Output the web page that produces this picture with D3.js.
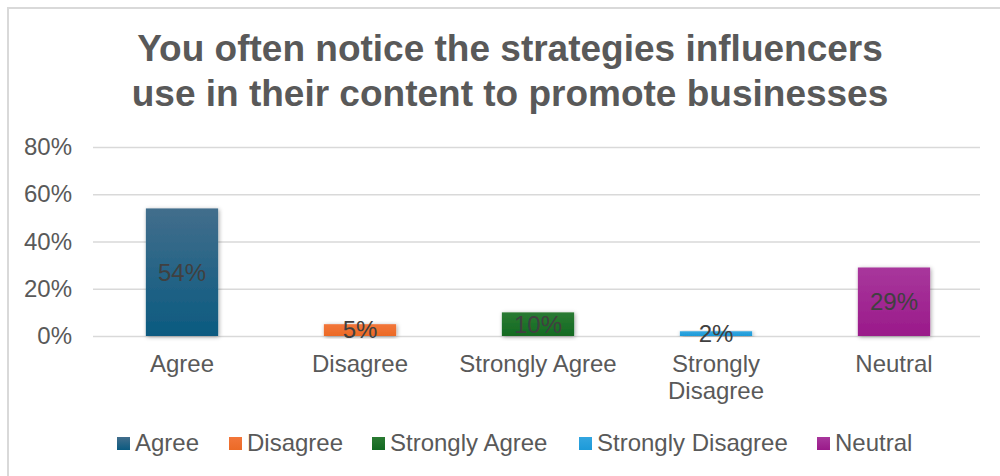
<!DOCTYPE html>
<html>
<head>
<meta charset="utf-8">
<script src="https://cdn.jsdelivr.net/npm/d3@7"></script>
<style>
  html, body { margin: 0; padding: 0; background: #fff; }
  svg { display: block; font-family: "Liberation Sans", Arial, sans-serif; }
</style>
</head>
<body>
<svg id="chart" width="1000" height="476"></svg>
<script>
// Survey responses
const categories = ["Agree", "Disagree", "Strongly Agree", "Strongly Disagree", "Neutral"];
const values = [0.54, 0.05, 0.10, 0.02, 0.29];
const yTicks = [0, 0.2, 0.4, 0.6, 0.8];
const titleLines = ["You often notice the strategies influencers", "use in their content to promote businesses"];
const colorsTop = ["#426e8c", "#f2763a", "#2a7a32", "#33a6e0", "#a8379c"];
const colorsBottom = ["#0b5a80", "#ec6a26", "#136a22", "#1d9ad8", "#9a1a8a"];

const W = 1000, H = 476;
const margin = { left: 93, right: 20 };
const svg = d3.select("#chart");

// outer chart frame
svg.append("rect")
  .attr("x", 8).attr("y", 8).attr("width", W + 10).attr("height", H + 10)
  .attr("fill", "#fff").attr("stroke", "#d9d9d9").attr("stroke-width", 2);

const defs = svg.append("defs");
categories.forEach((c, i) => {
  const g = defs.append("linearGradient").attr("id", "grad" + i)
    .attr("x1", 0).attr("y1", 0).attr("x2", 0).attr("y2", 1);
  g.append("stop").attr("offset", "0%").attr("stop-color", colorsTop[i]);
  g.append("stop").attr("offset", "100%").attr("stop-color", colorsBottom[i]);
});
const shadow = defs.append("filter").attr("id", "shadow")
  .attr("x", "-20%").attr("y", "-20%").attr("width", "140%").attr("height", "140%");
shadow.append("feDropShadow").attr("dx", 1).attr("dy", 1).attr("stdDeviation", 2)
  .attr("flood-color", "#000").attr("flood-opacity", 0.35);

// bars sit in bands across the plot; bar placement uses a slightly wider band range
const x = d3.scaleBand().domain(categories)
  .range([margin.left, W - margin.right + 3]).paddingInner(0.594).paddingOuter(0.297);
const y = d3.scaleLinear().domain([0, 0.8]).range([336, 147]);

// title
svg.append("text")
  .attr("text-anchor", "middle").attr("fill", "#595959")
  .attr("font-size", 37).attr("font-weight", "bold")
  .selectAll("tspan").data(titleLines).join("tspan")
  .attr("x", 510).attr("y", (d, i) => 61 + i * 45).text(d => d);

// gridlines
const grid = d3.axisLeft(y).tickValues(yTicks)
  .tickSize(-(W - margin.right - margin.left)).tickFormat("");
svg.append("g").attr("transform", `translate(${margin.left},0)`).call(grid)
  .call(g => g.select(".domain").remove())
  .call(g => g.selectAll("line").attr("stroke", "#d9d9d9").attr("stroke-width", 1.5));

// y tick labels
const yAxis = d3.axisLeft(y).tickValues(yTicks).tickSize(0).tickPadding(21)
  .tickFormat(d3.format(".0%"));
svg.append("g").attr("transform", `translate(${margin.left},0)`).call(yAxis)
  .call(g => g.select(".domain").remove())
  .call(g => g.selectAll("text").attr("fill", "#595959").attr("font-size", 24)
    .attr("font-family", "Liberation Sans, Arial, sans-serif"));

// bars
svg.append("g").selectAll("rect").data(values).join("rect")
  .attr("x", (d, i) => x(categories[i]))
  .attr("y", d => y(d))
  .attr("width", x.bandwidth())
  .attr("height", d => y(0) - y(d))
  .attr("fill", (d, i) => `url(#grad${i})`)
  .attr("filter", "url(#shadow)");

// value labels
svg.append("g").selectAll("text").data(values).join("text")
  .attr("x", (d, i) => x(categories[i]) + x.bandwidth() / 2)
  .attr("y", d => (y(d) + y(0)) / 2)
  .attr("dy", "0.35em")
  .attr("text-anchor", "middle").attr("fill", "#404040").attr("font-size", 24)
  .text(d => d3.format(".0%")(d));

// category labels
const xAxis = d3.axisBottom(x).tickSize(0).tickPadding(0);
const xg = svg.append("g").attr("transform", `translate(0,${y(0)})`).call(xAxis);
xg.select(".domain").remove();
xg.selectAll("text").remove();
xg.selectAll(".tick").append("text")
  .attr("text-anchor", "middle").attr("fill", "#595959").attr("font-size", 24)
  .attr("font-family", "Liberation Sans, Arial, sans-serif")
  .each(function(d) {
    const words = d === "Strongly Disagree" ? ["Strongly", "Disagree"] : [d];
    d3.select(this).selectAll("tspan").data(words).join("tspan")
      .attr("x", 0).attr("y", (w, i) => 36 + i * 27).text(w => w);
  });

// legend
const legendX = [117, 229, 372, 579, 817];
const lg = svg.append("g").selectAll("g").data(categories).join("g")
  .attr("transform", (d, i) => `translate(${legendX[i]},451)`);
lg.append("rect").attr("x", 0).attr("y", -14).attr("width", 13).attr("height", 13)
  .attr("fill", (d, i) => `url(#grad${i})`);
lg.append("text").attr("x", 18).attr("y", 0)
  .attr("fill", "#595959").attr("font-size", 24).text(d => d);
</script>
</body>
</html>
